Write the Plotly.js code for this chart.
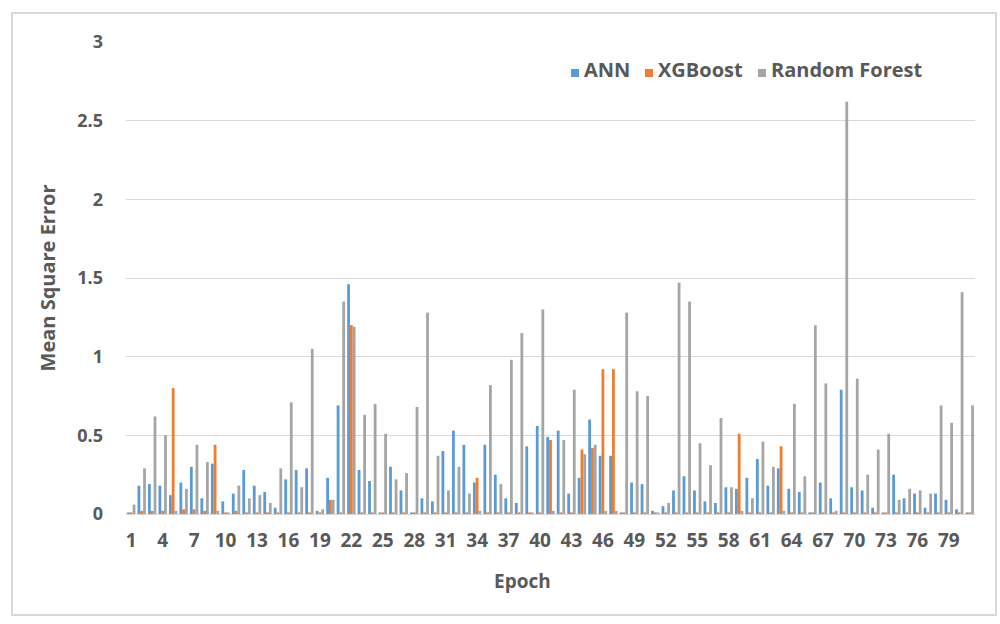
<!DOCTYPE html>
<html>
<head>
<meta charset="utf-8">
<script src="https://cdn.plot.ly/plotly-3.0.1.min.js"></script>
<style>html,body{margin:0;padding:0;background:#fff;}#chart{width:1000px;height:624px;}</style>
</head>
<body>
<div id="chart"></div>
<script>
// Epochs 1..81
var epochs = [];
for (var i = 1; i <= 81; i++) epochs.push(i);

var ann = [0.01,0.18,0.19,0.18,0.12,0.20,0.30,0.10,0.32,0.08,
           0.13,0.28,0.18,0.14,0.04,0.22,0.28,0.29,0.02,0.23,
           0.69,1.46,0.28,0.21,0.01,0.30,0.15,0.01,0.10,0.08,
           0.40,0.53,0.44,0.20,0.44,0.25,0.10,0.07,0.43,0.56,
           0.49,0.53,0.13,0.23,0.60,0.37,0.37,0.01,0.20,0.19,
           0.02,0.05,0.15,0.24,0.15,0.08,0.07,0.17,0.16,0.23,
           0.35,0.18,0.29,0.16,0.14,0.01,0.20,0.10,0.79,0.17,
           0.15,0.04,0.01,0.25,0.10,0.13,0.04,0.13,0.09,0.03,0.01];

var xgb = [0.01,0.02,0.02,0.02,0.80,0.03,0.03,0.02,0.44,0.01,
           0.02,0.01,0.01,0.01,0.01,0.01,0.01,0.01,0.01,0.09,
           0.01,1.20,0.01,0.01,0.01,0.01,0.01,0.01,0.01,0.01,
           0.01,0.01,0.01,0.23,0.01,0.01,0.01,0.01,0.01,0.01,
           0.47,0.01,0.01,0.41,0.42,0.92,0.92,0.01,0.01,0.01,
           0.01,0.01,0.01,0.01,0.01,0.01,0.01,0.01,0.51,0.01,
           0.01,0.01,0.43,0.01,0.01,0.01,0.01,0.01,0.01,0.01,
           0.01,0.01,0.01,0.01,0.01,0.01,0.01,0.01,0.01,0.01,0.01];

var rf = [0.06,0.29,0.62,0.50,0.02,0.16,0.44,0.33,0.02,0.01,
          0.18,0.10,0.12,0.07,0.29,0.71,0.17,1.05,0.03,0.09,
          1.35,1.19,0.63,0.70,0.51,0.22,0.26,0.68,1.28,0.37,
          0.15,0.30,0.13,0.02,0.82,0.19,0.98,1.15,0.01,1.30,
          0.02,0.47,0.79,0.38,0.44,0.02,0.02,1.28,0.78,0.75,
          0.01,0.07,1.47,1.35,0.45,0.31,0.61,0.17,0.02,0.10,
          0.46,0.30,0.02,0.70,0.24,1.20,0.83,0.02,2.62,0.86,
          0.25,0.41,0.51,0.09,0.16,0.15,0.13,0.69,0.58,1.41,0.69];

var seriesNames = ["ANN", "XGBoost", "Random Forest"];
var seriesColors = ["#5B9BD5", "#ED7D31", "#A5A5A5"];
var tickVals = [1,4,7,10,13,16,19,22,25,28,31,34,37,40,43,46,49,52,55,58,61,64,67,70,73,76,79];
var yTicks = [0, 0.5, 1, 1.5, 2, 2.5, 3];
var yTickText = ["0", "0.5", "1", "1.5", "2", "2.5", "3"];

var allValues = [ann, xgb, rf];
var traces = allValues.map(function(v, k) {
  return {type: "bar", x: epochs, y: v, name: seriesNames[k],
          marker: {color: seriesColors[k]}, hoverinfo: "x+y+name"};
});

var fontFam = "'Open Sans', 'DejaVu Sans', sans-serif";

// plot area in pixels: left 126, right 975, top 42, bottom 514
function px(x) { return (x - 126) / 849; }
function py(y) { return (514 - y) / 472; }

// manual compact legend (Excel style)
var legendX = [571, 645, 758];
var shapes = [{type: "rect", xref: "paper", yref: "paper", x0: px(12), x1: px(996),
               y0: py(615), y1: py(13), line: {color: "#D9D9D9", width: 2},
               fillcolor: "rgba(0,0,0,0)", layer: "below"}];
var annotations = [{text: "Epoch", xref: "paper", yref: "paper", x: px(522), y: py(581),
                    xanchor: "center", yanchor: "middle", showarrow: false,
                    font: {size: 19, color: "#595959", weight: "bold", family: fontFam}}];
seriesNames.forEach(function(n, k) {
  shapes.push({type: "rect", xref: "paper", yref: "paper",
               x0: px(legendX[k]), x1: px(legendX[k] + 8), y0: py(77), y1: py(69),
               line: {width: 0}, fillcolor: seriesColors[k]});
  annotations.push({text: n, xref: "paper", yref: "paper", x: px(legendX[k] + 11), y: py(70),
                    xanchor: "left", yanchor: "middle", showarrow: false,
                    font: {size: 20, color: "#595959", weight: "bold", family: fontFam}});
});

var layout = {
  width: 1000, height: 624,
  margin: {l: 126, r: 25, t: 42, b: 110},
  paper_bgcolor: "#fff", plot_bgcolor: "#fff",
  barmode: "group", bargap: 0.2, bargroupgap: 0,
  font: {family: fontFam, color: "#595959"},
  showlegend: false,
  xaxis: {range: [0.5, 81.5], tickmode: "array", tickvals: tickVals,
          ticktext: tickVals.map(String), showgrid: false, zeroline: false,
          showline: false, ticks: "", ticklabelstandoff: 13,
          tickfont: {size: 19, color: "#595959", weight: "bold", family: fontFam},
          fixedrange: true},
  yaxis: {range: [0, 3], tickmode: "array", tickvals: yTicks, ticktext: yTickText,
          showgrid: true, gridcolor: "#D9D9D9", gridwidth: 1, zeroline: true,
          zerolinecolor: "#D9D9D9", zerolinewidth: 1, showline: false, ticks: "",
          ticklabelstandoff: 22,
          tickfont: {size: 18, color: "#595959", weight: "bold", family: fontFam},
          title: {text: "Mean Square Error", standoff: 16,
                  font: {size: 20, color: "#595959", weight: "bold", family: fontFam}},
          fixedrange: true},
  annotations: annotations,
  shapes: shapes
};

Plotly.newPlot("chart", traces, layout, {displayModeBar: false, staticPlot: true});
</script>
</body>
</html>
